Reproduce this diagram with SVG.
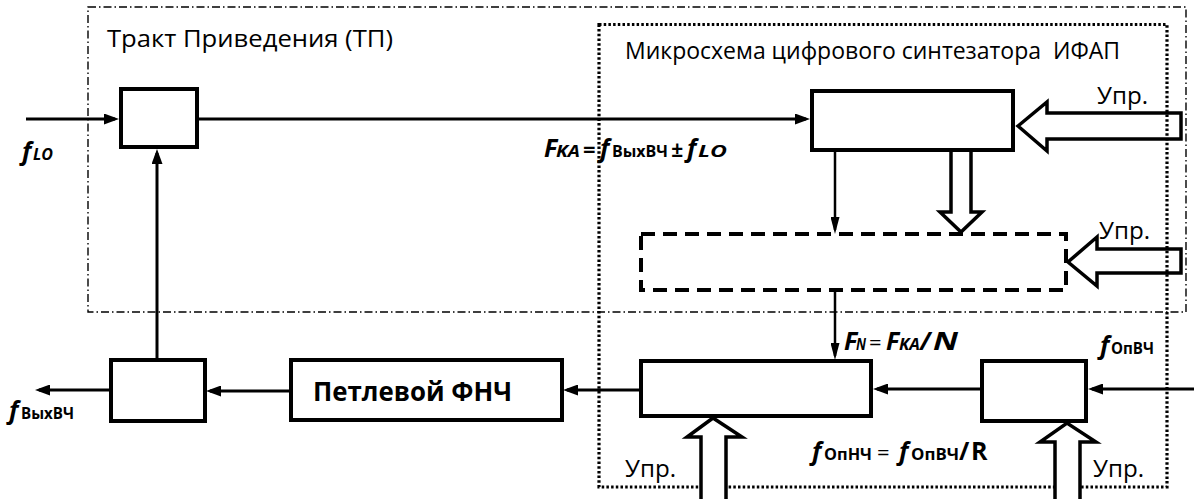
<svg xmlns="http://www.w3.org/2000/svg" width="1194" height="499" viewBox="0 0 1194 499">
<style>
.box{fill:#fff;stroke:#000;stroke-width:4}
.dash{fill:none;stroke:#000;stroke-width:4;stroke-dasharray:14 8}
.ln{fill:none;stroke:#000;stroke-width:3}
.thin{fill:none;stroke:#000;stroke-width:2.5}
.hol{fill:#fff;stroke:#000;stroke-width:3.5;stroke-linejoin:miter}
.frame1{fill:none;stroke:#000;stroke-width:1.4;stroke-dasharray:8 3 1.5 3}
.frame2{fill:none;stroke:#000;stroke-width:3.2;stroke-dasharray:2.5 2.2}
text{font-family:"Open Sans","Liberation Sans",sans-serif;fill:#000}
.lab{font-size:23px}
.bi{font-weight:bold;font-style:italic}
.b{font-weight:bold}
.m{font-size:25px}
.s{font-size:16px}
</style>
<defs>
<marker id="ah" markerUnits="userSpaceOnUse" markerWidth="15" markerHeight="11" refX="11" refY="5.5" orient="auto">
<path d="M0,0 L15,5.5 L0,11 Z" fill="#000"/>
</marker>
<marker id="ah2" markerUnits="userSpaceOnUse" markerWidth="17" markerHeight="9" refX="13" refY="4.5" orient="auto">
<path d="M0,0 L17,4.5 L0,9 Z" fill="#000"/>
</marker>
</defs>

<g id="connectors">
<path class="ln" d="M26,119 H115" marker-end="url(#ah)"/>
<path class="ln" d="M199,119 H806" marker-end="url(#ah)"/>
<path class="thin" d="M835,152 V230" marker-end="url(#ah2)"/>
<path class="thin" d="M835,292 V356" marker-end="url(#ah2)"/>
<path class="ln" d="M980,389 H877" marker-end="url(#ah)"/>
<path class="ln" d="M1194,389 H1092" marker-end="url(#ah)"/>
<path class="ln" d="M639,390 H567" marker-end="url(#ah)"/>
<path class="ln" d="M290,391 H210" marker-end="url(#ah)"/>
<path class="ln" d="M110,390 H39" marker-end="url(#ah)"/>
<path class="ln" d="M157,359 V153" marker-end="url(#ah)"/>
<path class="hol" d="M1181,113 H1047 V102 L1018,126 L1047,151 V139 H1181 Z"/>
<path class="hol" d="M951,152 V212 H940 L961,232 L982,212 H971 V152"/>
<path class="hol" d="M1181,249 H1097 V237 L1068,262 L1097,286 V273 H1181 Z"/>
</g>

<g id="node-mixer"><rect class="box" x="121" y="89" width="76" height="58"/></g>
<g id="node-divN-top"><rect class="box" x="812" y="91" width="201" height="59"/></g>
<g id="node-prescaler"><rect class="dash" x="641" y="234" width="425" height="56"/></g>
<g id="node-pfd"><rect class="box" x="641" y="361" width="230" height="55"/></g>
<g id="node-divR"><rect class="box" x="982" y="361" width="104" height="60"/></g>
<g id="node-vco"><rect class="box" x="111" y="360" width="94" height="61"/></g>
<g id="node-lpf"><rect class="box" x="291" y="360" width="271" height="60"/>
<text class="b" x="313" y="401" font-size="26" textLength="199" lengthAdjust="spacingAndGlyphs">Петлевой ФНЧ</text></g>

<g id="frames">
<rect class="frame1" x="88" y="7" width="1098" height="305"/>
<rect class="frame2" x="599" y="24.5" width="568" height="462.5"/>
</g>

<g id="ctrl-bottom">
<path class="hol" d="M701,505 V437 H687 L713,418 L742,437 H726 V505 Z"/>
<path class="hol" d="M1055,505 V442 H1040 L1067,423 L1096,442 H1080 V505 Z"/>
</g>

<g id="labels">
<text class="lab" x="107" y="47" font-size="24" textLength="286" lengthAdjust="spacingAndGlyphs">Тракт Приведения (ТП)</text>
<text class="lab" x="625" y="59" style="white-space:pre" textLength="495" lengthAdjust="spacingAndGlyphs">Микросхема цифрового синтезатора  ИФАП</text>
<text class="lab" x="1097" y="104" textLength="51" lengthAdjust="spacingAndGlyphs">Упр.</text>
<text class="lab" x="1099" y="239" textLength="51" lengthAdjust="spacingAndGlyphs">Упр.</text>
<text class="lab" x="625" y="477" textLength="51" lengthAdjust="spacingAndGlyphs">Упр.</text>
<text class="lab" x="1093" y="477" textLength="51" lengthAdjust="spacingAndGlyphs">Упр.</text>
</g>

<g id="formula-fLO">
<text class="bi m" x="22" y="160">f</text>
<text class="bi s" x="33" y="160" textLength="20" lengthAdjust="spacingAndGlyphs">LO</text>
</g>

<g id="formula-FKA">
<text class="bi m" x="544" y="157">F</text>
<text class="bi s" x="556" y="157" textLength="24" lengthAdjust="spacingAndGlyphs">KA</text>
<text class="b" x="583" y="157" font-size="22">=</text>
<text class="bi m" x="600" y="157">f</text>
<text class="b s" x="612" y="157" textLength="56" lengthAdjust="spacingAndGlyphs">ВыхВЧ</text>
<text class="bi" x="671" y="157" font-size="21">±</text>
<text class="bi m" x="687" y="157">f</text>
<text class="bi s" x="698" y="157" textLength="29" lengthAdjust="spacingAndGlyphs">LO</text>
</g>

<g id="formula-FN">
<text class="bi m" x="844" y="350">F</text>
<text class="bi s" x="856" y="350" textLength="10" lengthAdjust="spacingAndGlyphs">N</text>
<text x="869" y="350" font-size="22">=</text>
<text class="bi m" x="886" y="350">F</text>
<text class="bi s" x="899" y="350" textLength="21" lengthAdjust="spacingAndGlyphs">KA</text>
<text class="bi m" x="920" y="350">/</text>
<text class="bi" x="933" y="350" font-size="25" textLength="25" lengthAdjust="spacingAndGlyphs">N</text>
</g>

<g id="formula-fOpVCh">
<text class="bi m" x="1100" y="354">f</text>
<text class="b s" x="1111" y="354" textLength="43" lengthAdjust="spacingAndGlyphs">ОпВЧ</text>
</g>

<g id="formula-fOpNCh">
<text class="bi m" x="812" y="460">f</text>
<text class="b s" x="824" y="460" textLength="48" lengthAdjust="spacingAndGlyphs">ОпНЧ</text>
<text x="877" y="460" font-size="22">=</text>
<text class="bi m" x="899" y="460">f</text>
<text class="b s" x="911" y="460" textLength="48" lengthAdjust="spacingAndGlyphs">ОпВЧ</text>
<text class="b m" x="959" y="460">/</text>
<text class="b m" x="971" y="460">R</text>
</g>

<g id="formula-fOut">
<text class="bi m" x="9" y="419">f</text>
<text class="b s" x="21" y="419" textLength="53" lengthAdjust="spacingAndGlyphs">ВыхВЧ</text>
</g>
</svg>
